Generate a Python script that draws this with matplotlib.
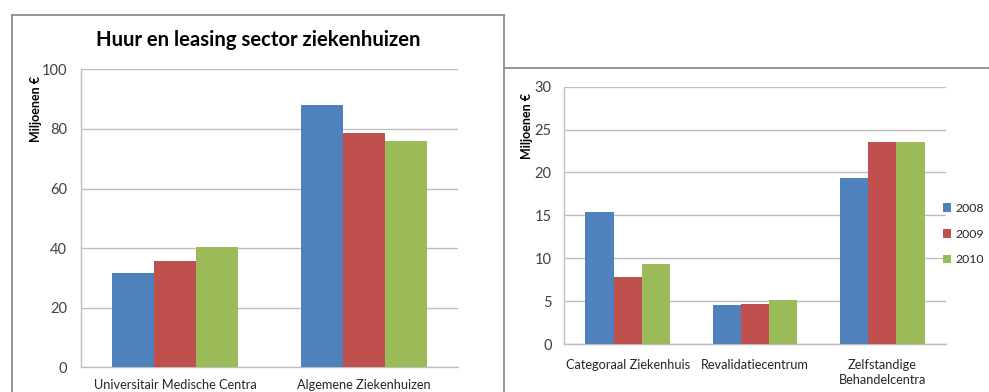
import matplotlib
matplotlib.use("Agg")
import matplotlib.pyplot as plt
import numpy as np
from matplotlib.lines import Line2D
from matplotlib.patches import Patch

plt.rcParams['font.family'] = ['Lato', 'DejaVu Sans']

years = ['2008', '2009', '2010']
colors = ['#4F81BD', '#C0504D', '#9BBB59']

# Left chart: hospital sector
cats_left = ['Universitair Medische Centra', 'Algemene Ziekenhuizen']
left_2008 = [31.7, 88.0]
left_2009 = [35.6, 78.5]
left_2010 = [40.5, 75.8]

# Right chart: other institutions
cats_right = ['Categoraal Ziekenhuis', 'Revalidatiecentrum', 'Zelfstandige\nBehandelcentra']
right_2008 = [15.4, 4.55, 19.4]
right_2009 = [7.85, 4.7, 23.6]
right_2010 = [9.35, 5.15, 23.5]

W, H = 989, 392
fig = plt.figure(figsize=(W / 100, H / 100), dpi=100)

frame_col = '#8c8c8c'
grid_col = '#bebebe'
tick_col = '#404040'


# Panel frames
def fline(xs, ys):
    xs_f = [x / W for x in xs]
    ys_f = [1 - y / H for y in ys]
    fig.add_artist(Line2D(xs_f, ys_f, color=frame_col, lw=1.3, transform=fig.transFigure))


fline([12, 12], [H + 2, 15])
fline([12, 504], [15, 15])
fline([504, 504], [15, H + 2])
fline([504, W + 2], [68, 68])


def bar_panel(ax, cats, series, ymax, step):
    n = len(series)
    x = np.arange(len(cats))
    bw = 1 / 4.5
    for i, (vals, col) in enumerate(zip(series, colors)):
        ax.bar(x + (i - (n - 1) / 2) * bw, vals, width=bw, color=col,
               label=years[i], zorder=3)
    ax.set_xlim(-0.5, len(cats) - 0.5)
    ax.set_ylim(0, ymax)
    ax.set_yticks(np.arange(0, ymax + 0.1, step))
    ax.set_xticks(x)
    ax.set_xticklabels(cats, fontsize=9.2, color='#262626', linespacing=1.25)
    ax.yaxis.grid(True, color=grid_col, lw=1, zorder=0)
    ax.set_axisbelow(True)
    for s in ['top', 'right']:
        ax.spines[s].set_visible(False)
    for s in ['left', 'bottom']:
        ax.spines[s].set_color(grid_col)
        ax.spines[s].set_linewidth(1)
    ax.tick_params(axis='both', length=0, colors=tick_col)
    ax.tick_params(axis='y', labelsize=10.5)
    ax.tick_params(axis='x', labelcolor='#262626')


ax1 = fig.add_axes([81 / W, 1 - 367.3 / H, 377 / W, 298 / H])
bar_panel(ax1, cats_left, [left_2008, left_2009, left_2010], 100, 20)
ax1.tick_params(axis='x', pad=8.5)
ax1.tick_params(axis='y', pad=10)

ax2 = fig.add_axes([564 / W, 1 - 344 / H, 382 / W, 257.3 / H])
bar_panel(ax2, cats_right, [right_2008, right_2009, right_2010], 30, 5)
ax2.tick_params(axis='x', pad=11)
ax2.tick_params(axis='y', pad=9)

# Titles and axis labels
fig.text(258 / W, 1 - 40 / H, 'Huur en leasing sector ziekenhuizen',
         ha='center', va='center', fontsize=14.6, fontweight='bold', color='black')
fig.text(36 / W, 1 - 109 / H, 'Miljoenen €', rotation=90, ha='center', va='center',
         fontsize=9, fontweight='bold', color='black')
fig.text(527 / W, 1 - 126 / H, 'Miljoenen €', rotation=90, ha='center', va='center',
         fontsize=9, fontweight='bold', color='black')

handles = [Patch(facecolor=c, edgecolor='none') for c in colors]
leg = fig.legend(handles, years, loc='center left',
                 bbox_to_anchor=(938 / W, 1 - 234 / H), frameon=False,
                 handlelength=0.7, handleheight=0.7, handletextpad=0.35,
                 labelspacing=1.2, fontsize=8.8, borderpad=0.2, borderaxespad=0.2)
for t in leg.get_texts():
    t.set_color('#262626')

fig.savefig('out.png', dpi=100)
